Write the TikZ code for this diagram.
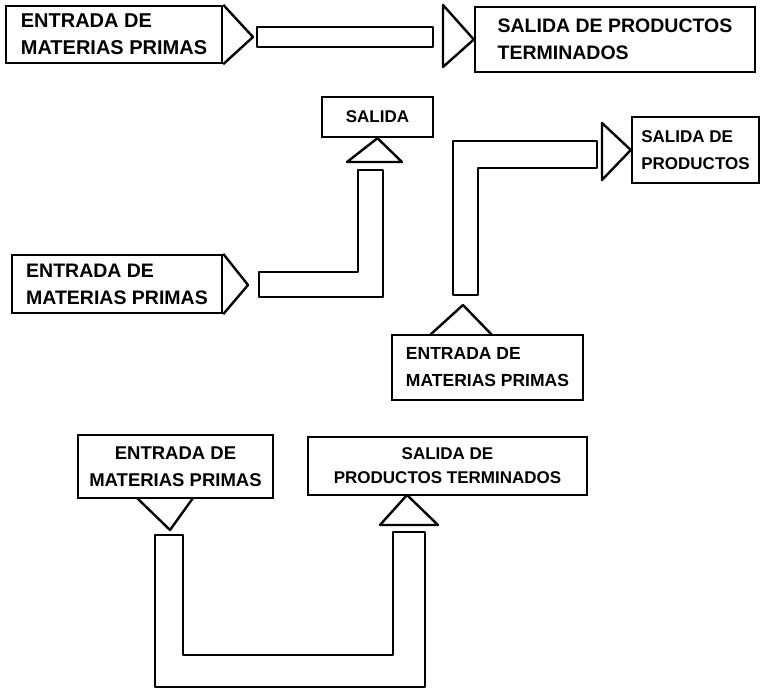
\documentclass[tikz,border=0pt]{standalone}
\usepackage{fontspec}
\setmainfont{Liberation Sans}
\tikzset{
  caja/.style={draw, line width=2.4pt, inner sep=0pt, align=left, font=\bfseries\fontsize{#1}{27}\selectfont},
  caja/.default=19,
  tubo/.style={draw, line width=2.4pt, line join=round},
}
\begin{document}
\begin{tikzpicture}[x=1pt, y=-1pt]
\useasboundingbox (0,0) rectangle (761,692);
\node[caja=20, minimum width=216pt, minimum height=57pt](entA) at (114,34.5) {ENTRADA DE\\MATERIAS PRIMAS};
\node[caja=19.5, minimum width=280pt, minimum height=65pt](salB) at (615,39.5) {SALIDA DE PRODUCTOS\\TERMINADOS};
\node[caja=17, align=center, minimum width=111pt, minimum height=40pt](salC) at (377.5,117) {SALIDA};
\node[caja=19.5, minimum width=210pt, minimum height=58pt](entD) at (117,284) {ENTRADA DE\\MATERIAS PRIMAS};
\node[caja=17, minimum width=127pt, minimum height=66pt](salE) at (695.5,150) {SALIDA DE\\PRODUCTOS};
\node[caja=17.5, minimum width=191pt, minimum height=65pt](entF) at (487.5,367.5) {ENTRADA DE\\MATERIAS PRIMAS};
\node[caja=18.5, align=center, minimum width=195pt, minimum height=63pt](entG) at (175.5,466.5) {ENTRADA DE\\MATERIAS PRIMAS};
\node[caja=17, align=center, minimum width=279pt, minimum height=58pt, font=\bfseries\fontsize{17}{24}\selectfont](salH) at (447.5,466) {SALIDA DE\\PRODUCTOS TERMINADOS};
\draw[tubo](entA.north east)--(253,37)--(entA.south east);
\draw[tubo](257,27) rectangle (433,47);
\draw[tubo](443,5)--(salB.west)--(443,67)--cycle;
\draw[tubo](347,162)--(salC.south)--(402,162)--cycle;
\draw[tubo](358,170)--(383,170)--(383,297)--(259,297)--(259,272)--(358,272)--cycle;
\draw[tubo](entD.north east)--(248,285)--(entD.south east);
\draw[tubo](453,295)--(453,141)--(597,141)--(597,168)--(478,168)--(478,295)--cycle;
\draw[tubo](602,123)--(salE.west)--(602,180)--cycle;
\draw[tubo](430,335)--(463,305)--(492,335);
\draw[tubo](137,498)--(170,530)--(193,498);
\draw[tubo](380,525)--(407,495)--(438,525)--cycle;
\draw[tubo](155,535)--(155,687)--(425,687)--(425,532)--(393,532)--(393,655)--(183,655)--(183,535)--cycle;
\end{tikzpicture}
\end{document}
